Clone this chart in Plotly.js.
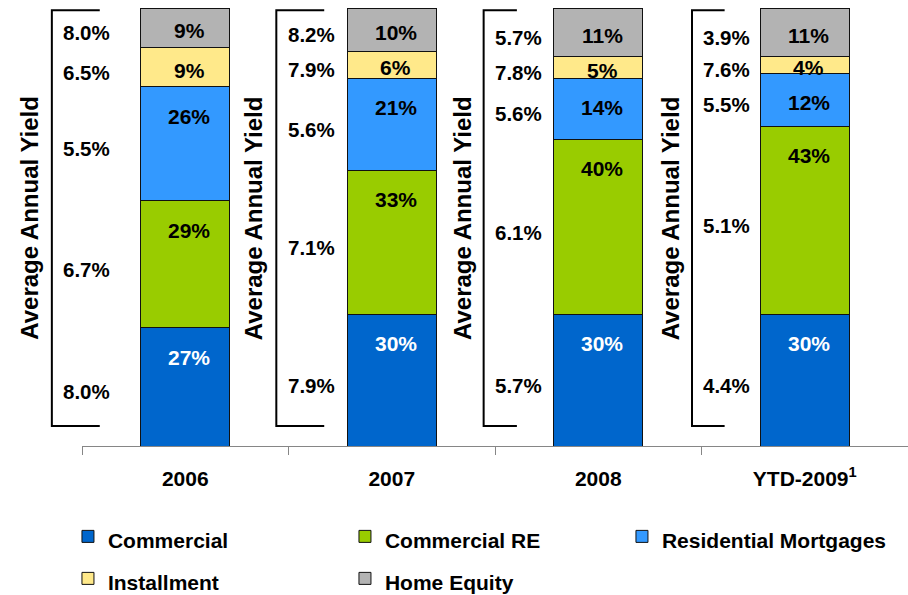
<!DOCTYPE html>
<html>
<head>
<meta charset="utf-8">
<script src="https://cdn.plot.ly/plotly-3.0.1.min.js"></script>
<style>html,body{margin:0;padding:0;background:#fff;}#chart{width:908px;height:595px;}</style>
</head>
<body>
<div id="chart"></div>
<script>
// ---- data ----
const categories = ['2006', '2007', '2008', 'YTD-2009<sup>1</sup>'];
const seriesNames = ['Commercial', 'Commercial RE', 'Residential Mortgages', 'Installment', 'Home Equity'];
// share of portfolio (%)
const commercial = [27, 30, 30, 30];
const commercialRE = [29, 33, 40, 43];
const residentialMortgages = [26, 21, 14, 12];
const installment = [9, 6, 5, 4];
const homeEquity = [9, 10, 11, 11];
// average annual yield (%)
const yieldCommercial = [8.0, 7.9, 5.7, 4.4];
const yieldCommercialRE = [6.7, 7.1, 6.1, 5.1];
const yieldResidential = [5.5, 5.6, 5.6, 5.5];
const yieldInstallment = [6.5, 7.9, 7.8, 7.6];
const yieldHomeEquity = [8.0, 8.2, 5.7, 3.9];
const yieldTitle = 'Average Annual Yield';

// ---- styling ----
const FONT = 'Liberation Sans, Arial, sans-serif';
const colors = ['#0066CC', '#99CC00', '#3399FF', '#FFE98A', '#B3B3B3'];
const textColors = ['#FFFFFF', '#000000', '#000000', '#000000', '#000000'];
const shares = [commercial, commercialRE, residentialMortgages, installment, homeEquity];
const yields = [yieldCommercial, yieldCommercialRE, yieldResidential, yieldInstallment, yieldHomeEquity];

// per-category layout offsets (in category units, relative to category centre)
const labelRight = [-0.356, -0.264, -0.262, -0.254];
const bracketLeft = [-0.646, -0.559, -0.555, -0.546];
const bracketRight = [-0.414, -0.327, -0.394, -0.388];
const titleOffset = [-0.758, -0.671, -0.660, -0.651];
const nCat = categories.length;
const toPaperX = (i, off) => (i + 0.5 + off) / nCat;

const traces = shares.map((vals, s) => ({
  type: 'bar',
  name: '<span style="font-size:21px">' + seriesNames[s] + '</span>',
  x: categories,
  y: vals,
  width: 0.431,
  marker: {color: colors[s], line: {color: '#111111', width: 1}},
  hoverinfo: 'x+y+name'
}));

const annotations = [];
const shapes = [];
categories.forEach((c, i) => {
  let base = 0;
  shares.forEach((vals, s) => {
    const v = vals[i];
    const top = base + v;
    annotations.push({
      xref: 'x', yref: 'y', x: i, y: top - Math.min(v / 2, 6.0),
      xshift: 4, yshift: -3,
      text: '<b>' + v + '%</b>', showarrow: false,
      font: {family: FONT, size: 21, color: textColors[s]}
    });
    annotations.push({
      xref: 'x', yref: 'y', x: i + labelRight[i], y: base + v / 2,
      xanchor: 'right', yshift: -5,
      text: '<b>' + yields[s][i].toFixed(1) + '%</b>', showarrow: false,
      font: {family: FONT, size: 20.5, color: '#000000'}
    });
    base = top;
  });
  annotations.push({
    xref: 'paper', yref: 'paper', x: toPaperX(i, titleOffset[i]), y: 0.5205,
    xanchor: 'center', yanchor: 'middle',
    text: '<b>' + yieldTitle + '</b>', textangle: -90, showarrow: false,
    font: {family: FONT, size: 24, color: '#000000'}
  });
  const xl = toPaperX(i, bracketLeft[i]);
  const xr = toPaperX(i, bracketRight[i]);
  shapes.push({
    type: 'path', xref: 'paper', yref: 'paper',
    path: `M ${xr},0.995 L ${xl},0.995 L ${xl},0.0457 L ${xr},0.0457`,
    line: {color: '#000000', width: 2}
  });
});

const layout = {
  width: 908, height: 595,
  margin: {l: 82, r: 0, t: 8, b: 149, autoexpand: false},
  paper_bgcolor: '#FFFFFF', plot_bgcolor: '#FFFFFF',
  barmode: 'stack',
  font: {family: FONT, color: '#000000'},
  xaxis: {
    type: 'category', range: [-0.5, nCat - 0.5], autorange: false,
    showline: true, linecolor: '#868686', linewidth: 1,
    ticks: 'outside', tickson: 'boundaries', ticklen: 8, tickcolor: '#868686',
    tickfont: {family: FONT, size: 21, color: '#000000', weight: 'bold'},
    ticklabelstandoff: 14,
    showgrid: false, zeroline: false, fixedrange: true
  },
  yaxis: {range: [0, 100], autorange: false, visible: false, showgrid: false, zeroline: false, fixedrange: true},
  showlegend: true,
  legend: {
    orientation: 'h', x: -0.017, xanchor: 'left', y: -0.147, yanchor: 'top',
    traceorder: 'normal', entrywidth: 232, entrywidthmode: 'pixels',
    font: {family: FONT, size: 30, color: '#000000', weight: 'bold'},
    bgcolor: 'rgba(0,0,0,0)'
  },
  annotations: annotations,
  shapes: shapes
};

Plotly.newPlot('chart', traces, layout, {displayModeBar: false, staticPlot: true});
</script>
</body>
</html>
